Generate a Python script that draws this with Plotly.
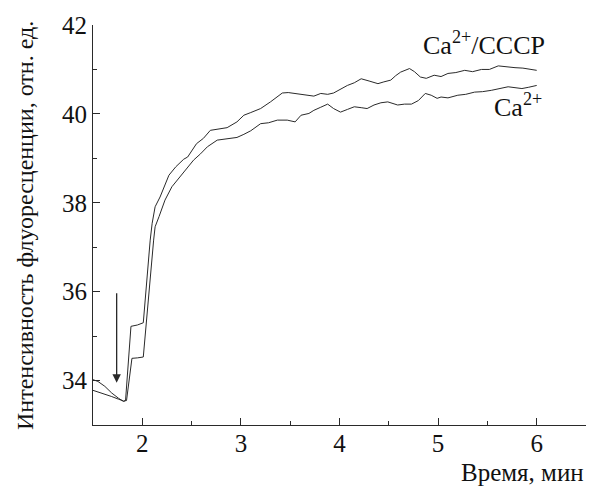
import plotly.graph_objects as go

# Ca2+/CCCP (upper curve)
t_cccp = [1.50, 1.55, 1.62, 1.69, 1.76, 1.81, 1.83, 1.885, 1.95, 2.01, 2.08, 2.10, 2.13, 2.18,
          2.27, 2.34, 2.42, 2.46, 2.55, 2.62, 2.69, 2.78, 2.86, 2.96, 3.03, 3.10, 3.20, 3.30,
          3.42, 3.48, 3.54, 3.61, 3.67, 3.74, 3.81, 3.88, 3.94, 4.01, 4.08, 4.15, 4.22, 4.30,
          4.39, 4.45, 4.52, 4.57, 4.62, 4.71, 4.76, 4.82, 4.88, 4.96, 5.03, 5.10, 5.18, 5.27,
          5.35, 5.44, 5.52, 5.61, 5.68, 5.78, 5.86, 5.93, 6.00]
v_cccp = [34.02, 33.98, 33.87, 33.72, 33.60, 33.53, 33.55, 35.22, 35.25, 35.30, 37.16, 37.54, 37.91, 38.13,
          38.62, 38.81, 38.98, 39.03, 39.33, 39.45, 39.63, 39.66, 39.69, 39.82, 39.97, 40.03, 40.12, 40.27,
          40.47, 40.48, 40.46, 40.44, 40.42, 40.40, 40.46, 40.44, 40.47, 40.55, 40.64, 40.70, 40.79, 40.74,
          40.68, 40.72, 40.76, 40.86, 40.94, 41.02, 40.95, 40.83, 40.80, 40.87, 40.84, 40.91, 40.93, 40.98,
          40.95, 41.00, 41.00, 41.08, 41.06, 41.04, 41.03, 41.01, 40.98]

# Ca2+ (lower curve)
t_ca = [1.50, 1.59, 1.69, 1.76, 1.81, 1.84, 1.895, 1.95, 2.01, 2.115, 2.13, 2.17, 2.23, 2.30,
        2.37, 2.42, 2.52, 2.59, 2.66, 2.76, 2.83, 2.90, 2.96, 3.03, 3.10, 3.20, 3.28, 3.37,
        3.47, 3.55, 3.61, 3.69, 3.74, 3.81, 3.88, 3.94, 4.01, 4.08, 4.15, 4.22, 4.28, 4.35,
        4.42, 4.49, 4.59, 4.66, 4.73, 4.80, 4.87, 4.93, 4.99, 5.03, 5.10, 5.20, 5.28, 5.37,
        5.45, 5.54, 5.62, 5.71, 5.78, 5.85, 5.92, 6.00]
v_ca = [33.78, 33.72, 33.64, 33.58, 33.54, 33.55, 34.50, 34.51, 34.53, 37.16, 37.46, 37.69, 38.06, 38.36,
        38.55, 38.70, 38.96, 39.10, 39.26, 39.41, 39.43, 39.45, 39.47, 39.54, 39.62, 39.78, 39.80, 39.86,
        39.86, 39.82, 39.97, 40.01, 40.08, 40.15, 40.22, 40.12, 40.04, 40.10, 40.16, 40.14, 40.12, 40.20,
        40.25, 40.27, 40.20, 40.22, 40.22, 40.30, 40.46, 40.42, 40.35, 40.38, 40.36, 40.42, 40.44, 40.49,
        40.50, 40.53, 40.56, 40.61, 40.59, 40.57, 40.60, 40.64]

x_ticks = [2, 3, 4, 5, 6]
y_ticks = [34, 36, 38, 40, 42]

# arrow marking addition
arrow_t = 1.74
arrow_from = 36.0
arrow_to = 33.95

FONT = "Liberation Serif"
INK = "#2a2a2a"

fig = go.Figure()
fig.add_trace(go.Scatter(x=t_cccp, y=v_cccp, mode="lines", name="Ca2+/CCCP",
                         line=dict(color=INK, width=1)))
fig.add_trace(go.Scatter(x=t_ca, y=v_ca, mode="lines", name="Ca2+",
                         line=dict(color=INK, width=1)))

fig.add_annotation(x=arrow_t, y=arrow_to, ax=arrow_t, ay=arrow_from, xref="x", yref="y",
                   axref="x", ayref="y", showarrow=True, arrowhead=2, arrowsize=1.3,
                   arrowwidth=1.3, arrowcolor=INK, text="")

fig.add_annotation(x=5.47, y=41.58, xref="x", yref="y", text="Ca<sup>2+</sup>/CCCP",
                   showarrow=False, font=dict(family=FONT, size=26, color="#111"))
fig.add_annotation(x=5.81, y=40.2, xref="x", yref="y", text="Ca<sup>2+</sup>",
                   showarrow=False, font=dict(family=FONT, size=26, color="#111"))

fig.add_annotation(x=1.0, y=-0.118, xref="paper", yref="paper", xanchor="right", yanchor="middle",
                   text="Время, мин", showarrow=False, font=dict(family=FONT, size=25, color="#111"))
fig.add_annotation(x=-0.138, y=0.5, xref="paper", yref="paper", xanchor="center", yanchor="middle",
                   textangle=-90, text="Интенсивность флуоресценции, отн. ед.", showarrow=False,
                   font=dict(family=FONT, size=24, color="#111"))

fig.update_layout(
    width=595, height=486,
    margin=dict(l=93, r=9, t=25, b=61),
    paper_bgcolor="white", plot_bgcolor="white",
    showlegend=False,
    font=dict(family=FONT, size=25, color="#111"),
)
fig.update_xaxes(range=[1.5, 6.5], tickvals=x_ticks, showgrid=False, zeroline=False,
                 showline=True, linecolor=INK, linewidth=1, ticks="inside", ticklen=7,
                 tickcolor=INK, tickfont=dict(family=FONT, size=25), ticklabelstandoff=-4,
                 minor=dict(ticks="inside", ticklen=4, dtick=0.5, tick0=1.5, tickcolor=INK))
fig.update_yaxes(range=[33, 42], tickvals=y_ticks, showgrid=False, zeroline=False,
                 showline=True, linecolor=INK, linewidth=1, ticks="inside", ticklen=7,
                 tickcolor=INK, tickfont=dict(family=FONT, size=25),
                 minor=dict(ticks="inside", ticklen=4, dtick=1, tick0=33, tickcolor=INK))

fig.write_html("out.html", config={"displayModeBar": False},
               post_script="document.body.style.margin='0';")
